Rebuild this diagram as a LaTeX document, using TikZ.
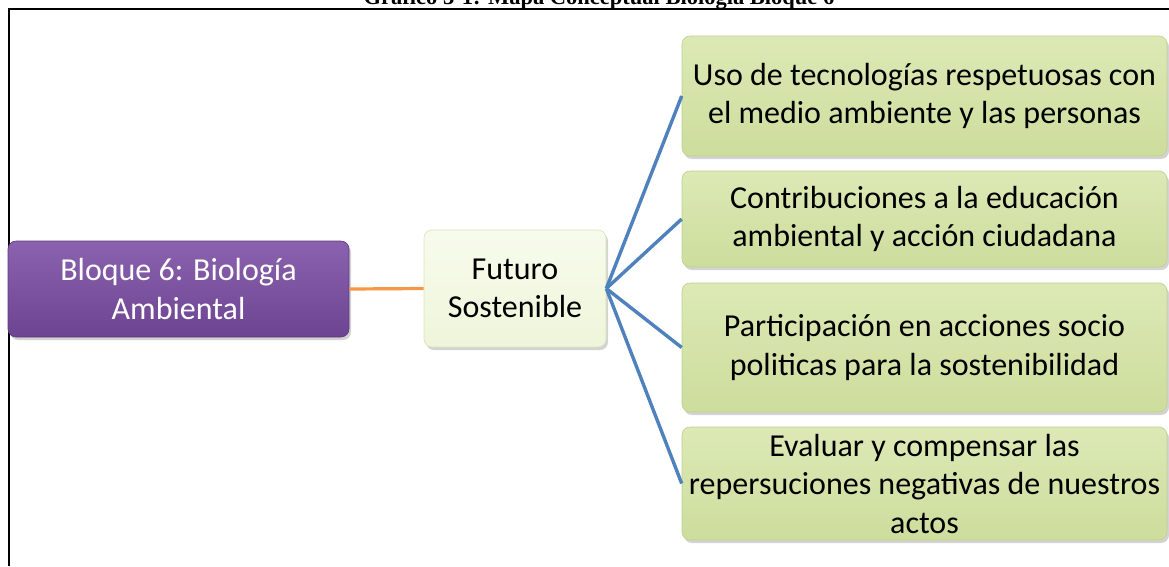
\documentclass[tikz,border=0pt]{standalone}
\usepackage{fontspec}
\setmainfont{Carlito}
\newfontfamily\titlefont{Liberation Serif}
\usetikzlibrary{shadows}
\definecolor{purpleA}{HTML}{8A62AE}
\definecolor{purpleB}{HTML}{6C4491}
\definecolor{purpleD}{HTML}{5E3A80}
\definecolor{greenA}{HTML}{DCE9B6}
\definecolor{greenB}{HTML}{CDDD9C}
\definecolor{greenD}{HTML}{BFD08C}
\definecolor{paleA}{HTML}{F8FBEC}
\definecolor{paleB}{HTML}{EFF5DA}
\definecolor{paleD}{HTML}{D8E3B8}
\definecolor{linkblue}{HTML}{4F81BD}
\definecolor{linkorange}{HTML}{F79646}
\tikzset{
  boxbase/.style={rounded corners=8pt, inner sep=0pt, align=center,
    font=\fontsize{32}{38.5}\selectfont,
    drop shadow={opacity=0.35, shadow xshift=2pt, shadow yshift=-3pt}},
  rootbox/.style={boxbase, draw=purpleD, line width=0.6pt, top color=purpleA, bottom color=purpleB, text=white},
  midbox/.style={boxbase, draw=paleD, line width=0.6pt, top color=paleA, bottom color=paleB, text=black},
  leafbox/.style={boxbase, draw=greenD, line width=0.6pt, top color=greenA, bottom color=greenB, text=black,
    minimum width=485pt},
  bluelink/.style={draw=linkblue, line width=3.4pt},
  orangelink/.style={draw=linkorange, line width=3.2pt},
  frameline/.style={draw=black, line width=1.6pt}
}
\begin{document}
\begin{tikzpicture}[x=1pt,y=-1pt]
\useasboundingbox (0,0) rectangle (1169,566);
\clip (0,0) rectangle (1169,566);
\node[font=\titlefont\bfseries\fontsize{22.5}{27}\selectfont, anchor=base] (title) at (599,4) {Gráfico 3-1: Mapa Conceptual Biología Bloque 6};
\coordinate (fa) at (9,566);
\coordinate (fb) at (9,9);
\coordinate (fc) at (1169,9);
\draw[frameline] (fa) -- (fb) -- (fc);

\node[rootbox, minimum width=341pt, minimum height=96pt] (root) at (178.5,289) {Bloque 6: Biología\\Ambiental};
\node[midbox, minimum width=182pt, minimum height=117pt] (mid) at (515,288.5) {Futuro\\Sostenible};
\node[leafbox, minimum height=120pt] (l1) at (924.5,96) {Uso de tecnologías respetuosas con\\el medio ambiente y las personas};
\node[leafbox, minimum height=96pt] (l2) at (924.5,219) {Contribuciones a la educación\\ambiental y acción ciudadana};
\node[leafbox, minimum height=129pt] (l3) at (924.5,347.5) {Participación en acciones socio\\politicas para la sostenibilidad};
\node[leafbox, minimum height=113pt] (l4) at (924.5,483.5) {Evaluar y compensar las\\repersuciones negativas de nuestros\\actos};

\draw[orangelink] (root.east) -- (mid.west);
\foreach \n in {l1,l2,l3,l4} \draw[bluelink] (mid.east) -- (\n.west);
\end{tikzpicture}
\end{document}
